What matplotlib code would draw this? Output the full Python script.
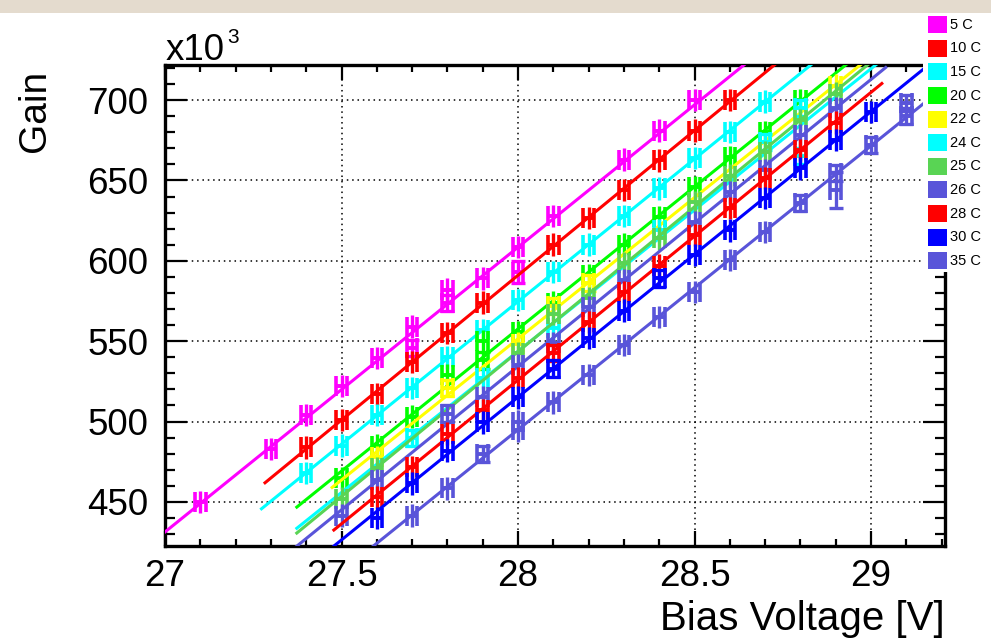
import numpy as np
import matplotlib
matplotlib.use('Agg')
import matplotlib.pyplot as plt
from matplotlib.patches import Rectangle
from matplotlib.ticker import MultipleLocator, FixedLocator, FixedFormatter

plt.rcParams['font.family'] = ['Liberation Sans', 'DejaVu Sans']

# ---------------- data ----------------
labels = ['5 C', '10 C', '15 C', '20 C', '22 C', '24 C', '25 C', '26 C', '28 C', '30 C', '35 C']
colors = ['#ff00ff', '#ff0000', '#00ffff', '#00ff00', '#ffff00', '#00ffff',
          '#59d454', '#5954d9', '#ff0000', '#0000ff', '#5954d9']

# bias voltage [V], gain [x10^3], capped-error size (0 = default error bar)
x_05 = [27.1, 27.3, 27.4, 27.5, 27.6, 27.7, 27.7, 27.8, 27.8, 27.9, 28.0, 28.0, 28.1, 28.3, 28.4, 28.5]
y_05 = [450, 483, 504, 522, 539.5, 559, 546, 573.5, 582, 589, 608.5, 593, 628, 663, 681, 700]
c_05 = [0, 0, 0, 0, 0, 0, 5, 5, 0, 0, 0, 7, 0, 0, 0, 0]

x_10 = [27.4, 27.5, 27.6, 27.7, 27.8, 27.9, 28.1, 28.2, 28.3, 28.4, 28.5, 28.6]
y_10 = [484, 501, 517, 537, 555, 574, 610, 626.5, 644, 662.5, 681, 700]
c_10 = [0, 0, 0, 0, 0, 0, 0, 0, 0, 0, 0, 0]

x_15 = [27.4, 27.5, 27.6, 27.7, 27.8, 27.9, 28.0, 28.1, 28.2, 28.3, 28.4, 28.5, 28.6, 28.7]
y_15 = [468, 485, 504, 521, 540, 557, 575.5, 593, 610, 628, 645, 664, 680, 699]
c_15 = [0, 0, 0, 0, 0, 0, 0, 0, 0, 0, 0, 0, 0, 0]

x_20 = [27.5, 27.6, 27.7, 27.8, 27.9, 27.9, 28.0, 28.1, 28.2, 28.3, 28.4, 28.5, 28.6, 28.7, 28.8]
y_20 = [465, 485, 503, 529, 550, 538, 555.5, 574, 591, 610, 627, 646, 664.5, 680, 700]
c_20 = [0, 0, 0, 0, 0, 5, 0, 0, 0, 0, 0, 0, 0, 0, 0]

x_22 = [27.6, 27.8, 28.0, 28.1, 28.2, 28.9]
y_22 = [478, 521, 548.5, 572, 586, 709]
c_22 = [0, 5, 0, 5, 5, 0]

x_24 = [27.7, 27.9, 28.1, 28.4, 28.7, 28.8, 28.8]
y_24 = [490, 527, 558, 619, 674, 695, 665]
c_24 = [5, 0, 0, 0, 5, 5, 5]

x_25 = [27.5, 27.6, 28.0, 28.1, 28.2, 28.3, 28.4, 28.5, 28.6, 28.7, 28.8, 28.9]
y_25 = [452, 471, 542.5, 567, 577, 598.5, 614, 636.5, 653, 667.5, 687.5, 704]
c_25 = [0, 0, 0, 0, 0, 0, 0, 0, 0, 0, 0, 0]

x_26 = [27.5, 27.6, 27.8, 27.9, 28.0, 28.1, 28.2, 28.3, 28.5, 28.6, 28.7, 28.8, 28.9]
y_26 = [441.5, 463.5, 505, 515, 535, 549, 571, 588, 624, 642.5, 656.5, 678, 695]
c_26 = [0, 0, 5, 0, 0, 0, 0, 0, 0, 0, 0, 0, 0]

x_28 = [27.6, 27.7, 27.8, 27.9, 28.0, 28.1, 28.2, 28.3, 28.4, 28.5, 28.6, 28.7, 28.8, 28.9]
y_28 = [453, 471.5, 492.5, 507, 527, 542.5, 562, 580.5, 597, 616, 633, 651.5, 669, 686]
c_28 = [0, 0, 0, 0, 0, 5, 0, 0, 0, 0, 0, 0, 0, 0]

x_30 = [27.6, 27.7, 27.8, 27.9, 28.0, 28.1, 28.2, 28.3, 28.4, 28.5, 28.6, 28.7, 28.8, 28.9, 29.0]
y_30 = [440, 461.5, 482, 499.5, 515, 533, 552, 569, 589, 603.5, 619, 639, 657.5, 675, 692.5]
c_30 = [0, 0, 0, 0, 0, 5, 0, 0, 5, 0, 0, 0, 0, 0, 0]

x_35 = [27.7, 27.8, 27.9, 28.0, 28.0, 28.1, 28.2, 28.3, 28.4, 28.5, 28.6, 28.7, 28.8, 28.9, 28.9, 29.0, 29.1, 29.1]
y_35 = [441.5, 458.5, 480, 494.5, 500, 512, 529, 547.5, 565, 580.5, 600.5, 618, 636, 654.5, 644, 672, 698, 690]
c_35 = [0, 0, 5, 0, 0, 0, 0, 0, 0, 0, 0, 0, 5, 5, 11, 5, 5, 5]

fit_lo = [26.9, 27.28, 27.27, 27.37, 27.47, 27.37, 27.37, 27.3, 27.475, 27.4, 27.5]
fit_hi = [29.3, 29.3, 29.3, 29.3, 29.3, 29.3, 29.3, 29.045, 29.034, 29.3, 29.3]

x_err = 0.015      # V
y_err = 7.0        # x10^3

x_ticks = [27, 27.5, 28, 28.5, 29]
x_ticklabels = ['27', '27.5', '28', '28.5', '29']
y_ticks = [450, 500, 550, 600, 650, 700]
y_ticklabels = ['450', '500', '550', '600', '650', '700']

series = [(x_05, y_05, c_05), (x_10, y_10, c_10), (x_15, y_15, c_15), (x_20, y_20, c_20),
          (x_22, y_22, c_22), (x_24, y_24, c_24), (x_25, y_25, c_25), (x_26, y_26, c_26),
          (x_28, y_28, c_28), (x_30, y_30, c_30), (x_35, y_35, c_35)]

# ---------------- figure ----------------
W, H = 991, 640
fig = plt.figure(figsize=(W / 100, H / 100), dpi=100)
fig.patch.set_facecolor('white')

# beige strip at top
fig.add_artist(Rectangle((0, 1 - 13 / H), 1, 13 / H, transform=fig.transFigure,
                         facecolor='#e4dbce', edgecolor='none', zorder=0))

L, R, T, B = 165, 945, 65, 546
ax = fig.add_axes([L / W, 1 - B / H, (R - L) / W, (B - T) / H])
ax.set_xlim(27.0, 29.2096)
ax.set_ylim(422.6, 721.8)

for i, (xs, ys, cs) in enumerate(series):
    xs = np.asarray(xs, float)
    ys = np.asarray(ys, float)
    cs = np.asarray(cs, float)
    col = colors[i]
    z = 3 + i * 0.1
    b, a = np.polyfit(xs, ys, 1)
    xl = np.array([fit_lo[i], fit_hi[i]])
    ax.plot(xl, a + b * xl, color=col, lw=2.2, zorder=z, solid_capstyle='butt')
    ax.errorbar(xs, ys, xerr=x_err, fmt='none', ecolor=col, elinewidth=2.8,
                capsize=7, capthick=2.6, zorder=z)
    n = cs == 0
    if n.any():
        ax.errorbar(xs[n], ys[n], yerr=y_err, fmt='none', ecolor=col,
                    elinewidth=2.4, capsize=0, zorder=z)
    m = cs > 0
    if m.any():
        ax.errorbar(xs[m], ys[m], yerr=cs[m], fmt='none', ecolor=col,
                    elinewidth=2.4, capsize=5, capthick=2.4, zorder=z)

ax.xaxis.set_major_locator(FixedLocator(x_ticks))
ax.xaxis.set_major_formatter(FixedFormatter(x_ticklabels))
ax.xaxis.set_minor_locator(MultipleLocator(0.1))
ax.yaxis.set_major_locator(FixedLocator(y_ticks))
ax.yaxis.set_major_formatter(FixedFormatter(y_ticklabels))
ax.yaxis.set_minor_locator(MultipleLocator(10))

ax.tick_params(which='both', direction='in', top=True, right=True, width=1.6, color='black')
ax.tick_params(axis='x', which='major', length=10.8, labelsize=26.5, pad=9)
ax.tick_params(axis='x', which='minor', length=5)
ax.tick_params(axis='y', which='major', length=15.8, labelsize=26.5, pad=12)
ax.tick_params(axis='y', which='minor', length=7.2)
for s in ax.spines.values():
    s.set_linewidth(2.4)
ax.grid(True, which='major', color='black', linestyle=(0, (1, 2.5)), linewidth=1.1)

# axis titles
fig.text(R / W, 1 - 630 / H, 'Bias Voltage [V]', fontsize=29, ha='right', va='baseline')
fig.text(53 / W, 1 - 70 / H, 'Gain', fontsize=28, rotation=90, ha='right', va='top')
fig.text(166 / W, 1 - 60 / H, 'x10', fontsize=26.5, ha='left', va='baseline')
fig.text(227 / W, 1 - 43 / H, '3', fontsize=15, ha='left', va='baseline')

# legend box (drawn over the plot frame)
fig.add_artist(Rectangle((923 / W, 1 - 272 / H), (W - 923) / W, (272 - 13) / H,
                         transform=fig.transFigure, facecolor='white', edgecolor='none', zorder=5))
for i, lab in enumerate(labels):
    yc = 24.7 + 23.6 * i
    fig.add_artist(Rectangle((928 / W, 1 - (yc + 8.5) / H), 19 / W, 17 / H,
                             transform=fig.transFigure, facecolor=colors[i],
                             edgecolor='none', zorder=6))
    fig.text(950 / W, 1 - yc / H, lab, fontsize=10.5, ha='left', va='center', zorder=7)

fig.savefig('out.png', dpi=100)
